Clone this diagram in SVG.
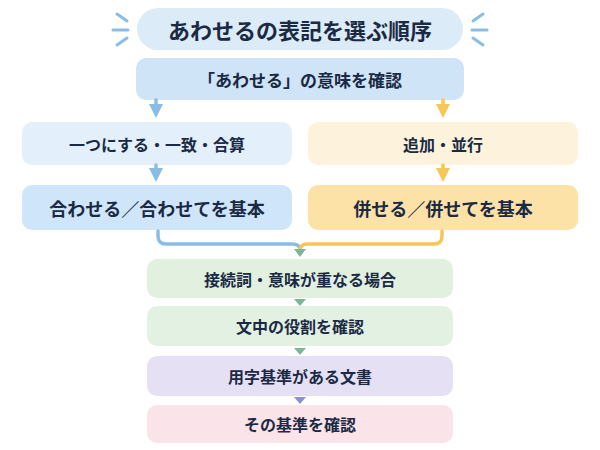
<svg xmlns="http://www.w3.org/2000/svg" width="600" height="450" viewBox="0 0 600 450">
<style>
text{font-family:"Noto Sans CJK JP",sans-serif;font-weight:700;fill:#1b2a44;text-anchor:middle;dominant-baseline:central}
.s{font-size:16px}
.c{fill:none;stroke-width:3.5;stroke-linecap:round}
</style>
<defs>
<marker id="ab" markerWidth="4" markerHeight="4" refX="2" refY="2" orient="auto" markerUnits="strokeWidth"><path d="M0,0L4,2L0,4Z" fill="#8bbde4"/></marker>
<marker id="ao" markerWidth="4" markerHeight="4" refX="2" refY="2" orient="auto" markerUnits="strokeWidth"><path d="M0,0L4,2L0,4Z" fill="#f7c657"/></marker>
</defs>
<rect width="600" height="450" fill="#fff"/>
<g stroke="#8bbde4" stroke-width="3" stroke-linecap="round">
<line x1="117" y1="14" x2="127" y2="21"/><line x1="113" y1="30" x2="128" y2="30"/><line x1="117" y1="45" x2="127" y2="38"/>
<line x1="483" y1="14" x2="473" y2="21"/><line x1="487" y1="30" x2="472" y2="30"/><line x1="483" y1="45" x2="473" y2="38"/>
</g>
<g id="title"><rect x="137" y="8" width="326" height="42" rx="21" fill="#dcebf8"/><text x="300" y="29" font-size="22">あわせるの表記を選ぶ順序</text></g>
<g id="n1"><rect x="136" y="58" width="328" height="42" rx="10" fill="#cfe4f7"/><text x="300" y="79" font-size="17">「あわせる」の意味を確認</text></g>
<g id="n2"><rect x="22" y="122" width="270" height="43" rx="10" fill="#e3f0fb"/><text x="157" y="143.5" class="s">一つにする・一致・合算</text></g>
<g id="n3"><rect x="308" y="122" width="270" height="43" rx="10" fill="#fdf3dc"/><text x="443" y="143.5" class="s">追加・並行</text></g>
<g id="n4"><rect x="22" y="185" width="270" height="45" rx="10" fill="#cfe5fa"/><text x="157" y="207.5" font-size="18">合わせる／合わせてを基本</text></g>
<g id="n5"><rect x="308" y="185" width="270" height="45" rx="10" fill="#fde2a8"/><text x="443" y="207.5" font-size="18">併せる／併せてを基本</text></g>
<g id="n6"><rect x="147" y="259" width="306" height="39" rx="10" fill="#e2f0e0"/><text x="300" y="278.5" class="s">接続詞・意味が重なる場合</text></g>
<g id="n7"><rect x="147" y="306" width="306" height="40" rx="10" fill="#e3f1e2"/><text x="300" y="326" class="s">文中の役割を確認</text></g>
<g id="n8"><rect x="147" y="356" width="306" height="40" rx="10" fill="#e6e0f4"/><text x="300" y="376" class="s">用字基準がある文書</text></g>
<g id="n9"><rect x="147" y="405" width="306" height="38" rx="10" fill="#fbe3ea"/><text x="300" y="424" class="s">その基準を確認</text></g>
<g id="connectors">
<path class="c" stroke="#8bbde4" d="M156,100V111" marker-end="url(#ab)"/>
<path class="c" stroke="#f7c657" d="M443,100V111" marker-end="url(#ao)"/>
<path class="c" stroke="#8bbde4" d="M156,165V175" marker-end="url(#ab)"/>
<path class="c" stroke="#f7c657" d="M443,165V175" marker-end="url(#ao)"/>
<path class="c" stroke="#8bbde4" d="M158,231V236Q158,244 166,244H292Q300,244 300,250"/>
<path class="c" stroke="#f7c657" d="M442,231V236Q442,244 434,244H308Q300,244 300,250"/>
<path d="M294,249L306,249L300,257Z" fill="#7fb59a"/>
<path d="M294,299L306,299L300,306Z" fill="#7fb59a"/>
<path d="M294,348L306,348L300,355Z" fill="#7fb59a"/>
<path d="M294,397L306,397L300,404Z" fill="#8c8fd0"/>
</g>
</svg>
